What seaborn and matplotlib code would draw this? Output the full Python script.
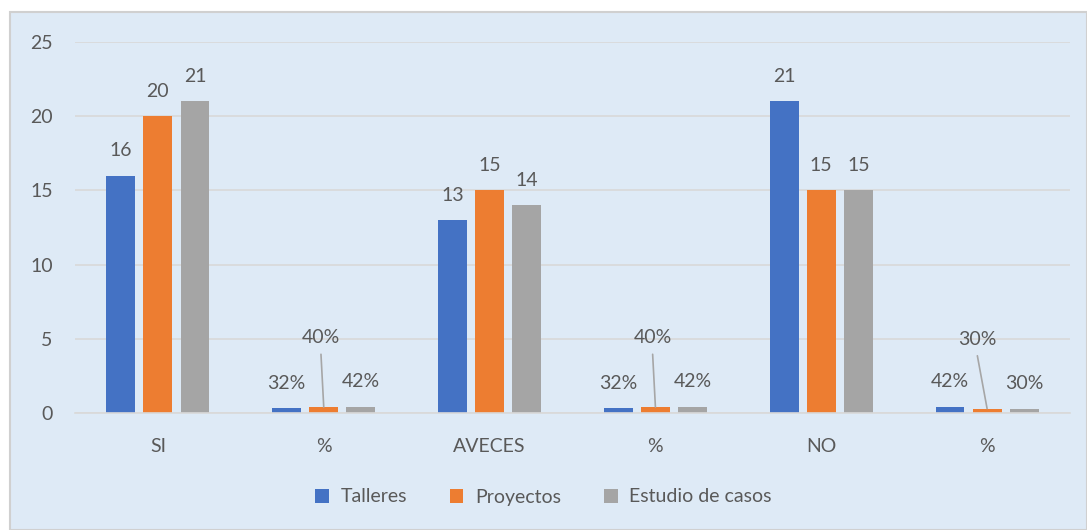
import pandas as pd
import matplotlib.pyplot as plt
import matplotlib.patches as mpatches
import seaborn as sns

sns.set_theme(style="white")
plt.rcParams['font.family'] = ['Lato', 'DejaVu Sans']

categories = ["SI", "%", "AVECES", "%", "NO", "%"]
series = ["Talleres", "Proyectos", "Estudio de casos"]
talleres = [16, 0.32, 13, 0.32, 21, 0.42]
proyectos = [20, 0.40, 15, 0.40, 15, 0.30]
estudio = [21, 0.42, 14, 0.42, 15, 0.30]
colors = ["#4472C4", "#ED7D31", "#A5A5A5"]

rows = []
for name, vals in zip(series, [talleres, proyectos, estudio]):
    for i, v in enumerate(vals):
        rows.append({"pos": i, "serie": name, "valor": v})
df = pd.DataFrame(rows)

bg = "#DEEAF6"
txt = "#595959"
fs = 14

fig = plt.figure(figsize=(10.87, 5.30), dpi=100)
fig.patch.set_facecolor("white")
fig.patches.append(mpatches.Rectangle((10 / 1087, 0), 1 - 10 / 1087, 1 - 12 / 530,
                                      transform=fig.transFigure, facecolor=bg,
                                      edgecolor="#D0D0D0", linewidth=1.5, zorder=-1))
ax = fig.add_axes([75 / 1087, 117 / 530, 995 / 1087, 371 / 530])
ax.set_facecolor(bg)

sns.barplot(data=df, x="pos", y="valor", hue="serie", hue_order=series,
            palette=colors, width=0.67, gap=0.22, saturation=1, ax=ax,
            edgecolor="none", legend=True)

ax.set_ylim(0, 25)
ax.set_xlim(-0.5, 5.5)
ax.set_yticks([0, 5, 10, 15, 20, 25])
ax.set_xticks(range(len(categories)))
ax.set_xticklabels(categories)
ax.set_xlabel("")
ax.set_ylabel("")
ax.tick_params(axis="both", length=0, labelsize=fs, colors=txt)
ax.tick_params(axis="x", pad=18)
ax.tick_params(axis="y", pad=16)
ax.yaxis.grid(True, color="#D9D9D9", linewidth=1.2)
ax.set_axisbelow(True)
for s in ["top", "right", "left"]:
    ax.spines[s].set_visible(False)
ax.spines["bottom"].set_color("#D9D9D9")
ax.spines["bottom"].set_linewidth(1.2)

# data labels
for ci, cont in enumerate(ax.containers):
    for i, bar in enumerate(cont):
        h = bar.get_height()
        xc = bar.get_x() + bar.get_width() / 2
        pct = categories[i] == "%"
        label = f"{round(h * 100)}%" if pct else f"{h:g}"
        if pct and ci == 1:
            dx = -7 if i == 5 else -2
            ax.annotate(label, (xc, h), xytext=(dx, 50), textcoords="offset points",
                        ha="center", va="center", fontsize=fs, color=txt)
            ax.annotate("", (xc, h), xytext=(dx, 38), textcoords="offset points",
                        arrowprops=dict(arrowstyle="-", color="#A6A6A6", lw=1.2,
                                        shrinkA=0, shrinkB=0))
        else:
            ax.annotate(label, (xc, h), xytext=(0, 18), textcoords="offset points",
                        ha="center", va="center", fontsize=fs, color=txt)

leg = ax.legend(loc="center", bbox_to_anchor=(0.5, 33 / 530), bbox_transform=fig.transFigure,
                ncol=3, frameon=False, fontsize=fs, handlelength=0.7, handleheight=0.7,
                columnspacing=2.2, handletextpad=0.6)
for t in leg.get_texts():
    t.set_color(txt)

fig.savefig("out.png", dpi=100, facecolor="white")
